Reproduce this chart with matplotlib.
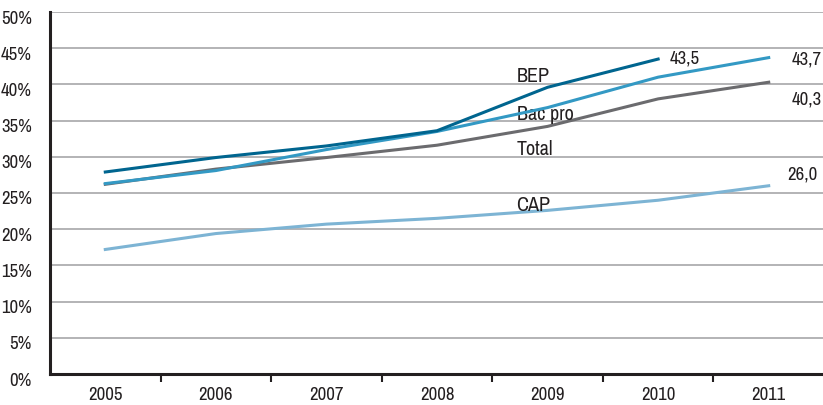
import matplotlib
matplotlib.use("Agg")
import matplotlib.pyplot as plt
import matplotlib.transforms as mtransforms
from matplotlib import font_manager

years = [2005, 2006, 2007, 2008, 2009, 2010, 2011]
bep = [27.9, 29.9, 31.5, 33.6, 39.6, 43.5]
bac_pro = [26.3, 28.1, 31.0, 33.5, 36.8, 41.0, 43.7]
total = [26.2, 28.3, 29.9, 31.6, 34.2, 38.0, 40.3]
cap = [17.2, 19.4, 20.7, 21.5, 22.6, 24.0, 26.0]
yticks = [0, 5, 10, 15, 20, 25, 30, 35, 40, 45, 50]

# find a condensed / narrow font if available
cand = None
for f in font_manager.fontManager.ttflist:
    fn = f.fname.lower()
    if ('condensed' in fn or 'narrow' in fn) and 'bold' not in fn and 'oblique' not in fn and 'italic' not in fn:
        cand = f.fname
        if 'narrow' in fn or 'roboto' in fn:
            break
if cand:
    font_manager.fontManager.addfont(cand)
    fam = font_manager.FontProperties(fname=cand).get_name()
else:
    fam = 'DejaVu Sans'
plt.rcParams['font.family'] = [fam, 'DejaVu Sans']
plt.rcParams['font.stretch'] = 'condensed'

fig = plt.figure(figsize=(8.23, 4.05), dpi=100)
ax = fig.add_axes([50/823, 31/405, 774/823, 362/405])

c_bep = "#00658f"
c_bac = "#3399c4"
c_tot = "#6b6b6e"
c_cap = "#7db4d4"

ax.plot(years[:6], bep, color=c_bep, lw=2.2, zorder=5)
ax.plot(years, bac_pro, color=c_bac, lw=2.2, zorder=4)
ax.plot(years, total, color=c_tot, lw=2.2, zorder=3)
ax.plot(years, cap, color=c_cap, lw=2.2, zorder=3)

fs = 13.5
fl = 14.5
ax.set_xlim(2004.5, 2011.5)
ax.set_ylim(0, 50)
ax.set_yticks(yticks)
ax.set_yticklabels([f"{v}%" for v in yticks], fontsize=fs, color="#231f20")
ax.yaxis.grid(True, color="#a7a7a9", lw=1.2)
ax.set_axisbelow(True)
ax.tick_params(axis='y', length=0, pad=13)
off = mtransforms.ScaledTranslation(0, -5/100, fig.dpi_scale_trans)
for lab in ax.get_yticklabels():
    lab.set_transform(lab.get_transform() + off)

ax.set_xticks(years)
ax.set_xticklabels([str(y) for y in years], fontsize=fs, color="#231f20")
ax.tick_params(axis='x', which='major', length=0, pad=9)
ax.set_xticks([y + 0.5 for y in years[:-1]], minor=True)
ax.tick_params(axis='x', which='minor', length=6, width=1.5, color="#231f20", direction='out')

for s in ['top', 'right']:
    ax.spines[s].set_visible(False)
for s in ['left', 'bottom']:
    ax.spines[s].set_linewidth(2.2)
    ax.spines[s].set_color("#231f20")

tc = "#231f20"
ax.text(2008.72, 41.4, "BEP", fontsize=fl, color=tc, va='center_baseline')
ax.text(2008.72, 36.1, "Bac pro", fontsize=fl, color=tc, va='center_baseline')
ax.text(2008.72, 31.35, "Total", fontsize=fl, color=tc, va='center_baseline')
ax.text(2008.72, 23.6, "CAP", fontsize=fl, color=tc, va='center_baseline')

ax.text(2010.1, 43.8, "43,5", fontsize=fs, color=tc, va='center_baseline')
ax.text(2011.21, 43.6, "43,7", fontsize=fs, color=tc, va='center_baseline', clip_on=False)
ax.text(2011.21, 38.1, "40,3", fontsize=fs, color=tc, va='center_baseline', clip_on=False)
ax.text(2011.17, 27.8, "26,0", fontsize=fs, color=tc, va='center_baseline', clip_on=False)

fig.savefig("out.png", dpi=100)
